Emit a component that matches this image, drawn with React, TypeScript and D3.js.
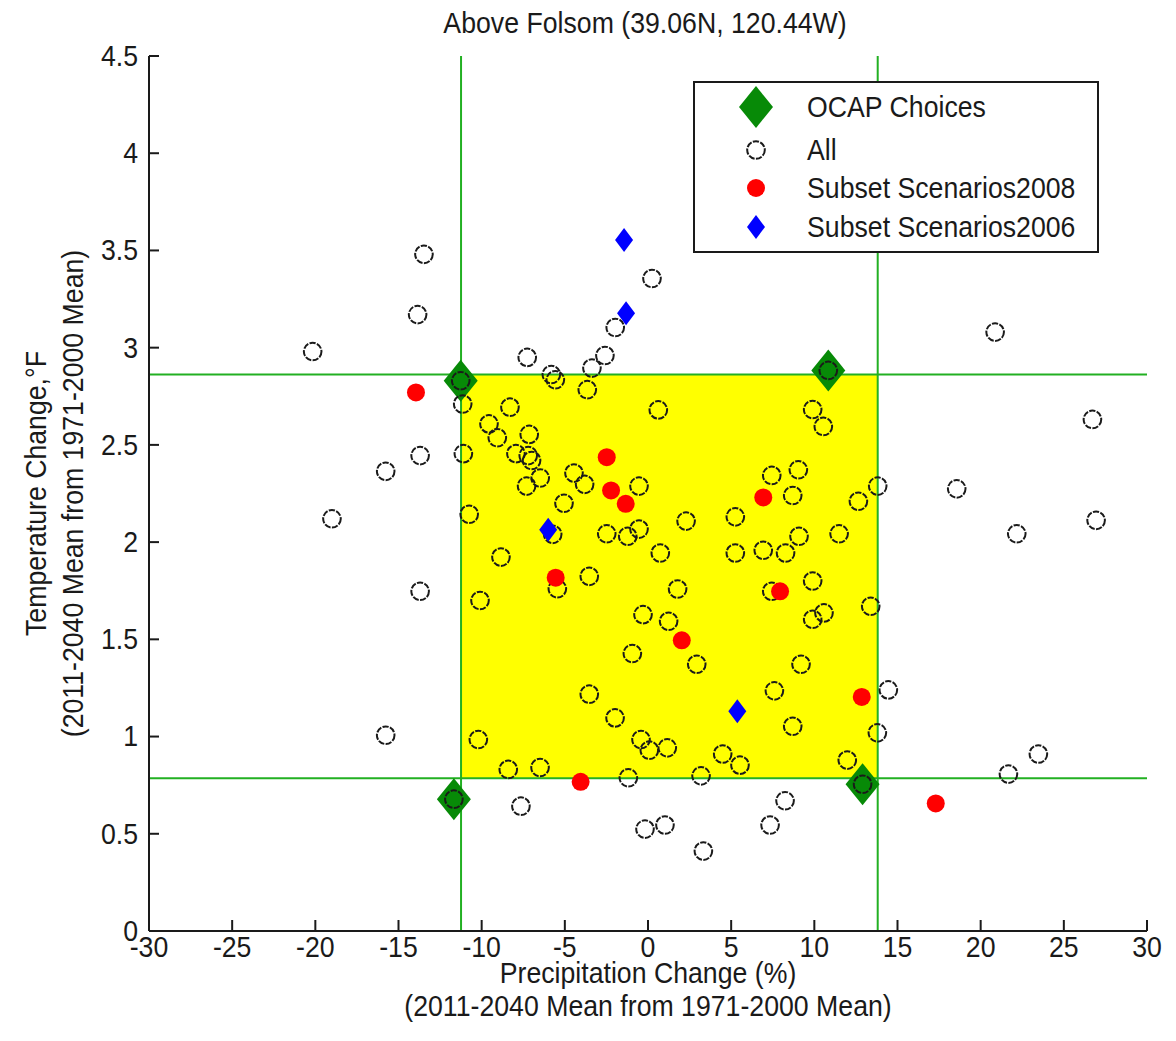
import React from "react";
import * as d3 from "d3";

// ---------- data ----------
const xTicks = [-30, -25, -20, -15, -10, -5, 0, 5, 10, 15, 20, 25, 30];
const yTicks = [0, 0.5, 1, 1.5, 2, 2.5, 3, 3.5, 4, 4.5];
const yTickLabels = ["0", "0.5", "1", "1.5", "2", "2.5", "3", "3.5", "4", "4.5"];

// [precip change %, temp change °F]
const allScenarios: [number, number][] = [
  [-13.47, 3.48], [-13.85, 3.17], [-20.16, 2.98], [-11.26, 2.83], [-11.14, 2.71],
  [-13.7, 2.445], [-11.1, 2.455], [0.24, 3.356], [-1.97, 3.104], [-2.59, 2.96],
  [-7.26, 2.95], [-3.37, 2.895], [-5.81, 2.862], [-5.57, 2.835], [-3.65, 2.784],
  [0.62, 2.68], [-8.3, 2.694], [-9.56, 2.608], [-9.06, 2.537], [-7.14, 2.554],
  [-7.94, 2.455], [-7.2, 2.445], [-7.0, 2.42], [-6.48, 2.33], [-7.3, 2.288],
  [-4.45, 2.355], [-3.81, 2.297], [-0.54, 2.288], [-5.05, 2.2], [-10.75, 2.143],
  [-5.73, 2.04], [-2.48, 2.043], [-1.22, 2.03], [-0.54, 2.067], [2.29, 2.108],
  [5.25, 2.13], [7.44, 2.343], [8.7, 2.24], [9.04, 2.372], [-8.84, 1.923],
  [0.74, 1.944], [5.25, 1.944], [6.93, 1.958], [8.27, 1.944], [9.08, 2.03],
  [-5.45, 1.76], [-3.53, 1.824], [1.78, 1.759], [-10.1, 1.7], [7.44, 1.747],
  [-0.3, 1.627], [1.24, 1.593], [-0.94, 1.427], [2.93, 1.372], [9.2, 1.372],
  [-3.53, 1.218], [7.6, 1.235], [13.81, 2.288], [12.65, 2.21], [18.56, 2.274],
  [26.94, 2.112], [22.17, 2.043], [11.49, 2.043], [9.9, 1.8], [13.39, 1.67],
  [9.9, 1.603], [10.58, 1.636], [14.45, 1.24], [10.84, 2.883], [9.9, 2.682],
  [10.54, 2.595], [20.87, 3.08], [26.72, 2.631], [-15.77, 2.364], [-19.0, 2.12],
  [-13.7, 1.747], [-15.77, 1.007], [-10.2, 0.985], [-11.67, 0.678], [-1.98, 1.096],
  [8.7, 1.053], [-0.42, 0.985], [0.08, 0.93], [1.16, 0.942], [-8.4, 0.831],
  [-6.49, 0.841], [-1.18, 0.788], [3.19, 0.798], [4.49, 0.91], [5.53, 0.853],
  [-7.64, 0.642], [-0.18, 0.524], [1.02, 0.545], [3.33, 0.411], [7.34, 0.545],
  [8.24, 0.67], [13.79, 1.019], [11.98, 0.879], [12.9, 0.755], [21.67, 0.807],
  [23.47, 0.91],
];

const ocapChoices: [number, number][] = [
  [-11.26, 2.83], [10.84, 2.883], [-11.67, 0.678], [12.9, 0.755],
];

const subset2008: [number, number][] = [
  [-13.95, 2.77], [-2.48, 2.437], [-2.22, 2.266], [-1.34, 2.197], [6.93, 2.23],
  [-5.55, 1.817], [7.94, 1.747], [2.03, 1.495], [12.85, 1.204], [-4.05, 0.767],
  [17.3, 0.656],
];

const subset2006: [number, number][] = [
  [-1.44, 3.554], [-1.32, 3.177], [-6.0, 2.064], [5.37, 1.13],
];

// percentile bounds (shaded box)
const boxX = [-11.24, 13.81];
const boxY = [0.786, 2.862];

const legendLabels = ["OCAP Choices", "All", "Subset Scenarios2008", "Subset Scenarios2006"];

const titleText = "Above Folsom (39.06N, 120.44W)";
const xLabel1 = "Precipitation Change (%)";
const xLabel2 = "(2011-2040 Mean from 1971-2000 Mean)";
const yLabel1 = "Temperature Change,°F";
const yLabel2 = "(2011-2040 Mean from 1971-2000 Mean)";

// ---------- layout ----------
const W = 1176;
const H = 1041;
const L = 149, R = 1147, T = 56, B = 931;
const FONT = "'Liberation Sans', Arial, sans-serif";
const FS = 29;
const SX = 0.92;

const GREEN_LINE = "#22b022";
const GREEN_MK = "#078a07";
const INK = "#1a1a1a";

const x = d3.scaleLinear().domain([-30, 30]).range([L, R]);
const y = d3.scaleLinear().domain([0, 4.5]).range([B, T]);

function diamond(cx: number, cy: number, hw: number, hh: number) {
  return `M${cx},${cy - hh}L${cx + hw},${cy}L${cx},${cy + hh}L${cx - hw},${cy}Z`;
}

function T_({ x: tx, y: ty, anchor = "middle", rotate = 0, children }: any) {
  return (
    <g transform={`translate(${tx},${ty}) rotate(${rotate}) scale(${SX},1)`}>
      <text
        x={0}
        y={0}
        fontSize={FS}
        textAnchor={anchor}
        dominantBaseline="central"
        fill={INK}
      >
        {children}
      </text>
    </g>
  );
}

const ringProps = {
  r: 8.8,
  fill: "none",
  stroke: INK,
  strokeWidth: 2,
  strokeDasharray: "6.2 1.4",
};

export default function App() {
  const lx = 756;
  const ly = [107, 150, 188, 227];
  return (
    <svg
      width={W}
      height={H}
      style={{ position: "absolute", left: 0, top: 0, background: "#fff" }}
      fontFamily={FONT}
    >
      <rect x={0} y={0} width={W} height={H} fill="#fff" />
      <T_ x={645} y={23}>{titleText}</T_>

      {/* shaded box */}
      <rect
        x={x(boxX[0])}
        y={y(boxY[1])}
        width={x(boxX[1]) - x(boxX[0])}
        height={y(boxY[0]) - y(boxY[1])}
        fill="#ffff00"
      />
      {boxX.map((v, i) => (
        <line key={"vx" + i} x1={x(v)} x2={x(v)} y1={y(4.5)} y2={y(0)} stroke={GREEN_LINE} strokeWidth={2} />
      ))}
      {boxY.map((v, i) => (
        <line key={"hy" + i} x1={x(-30)} x2={x(30)} y1={y(v)} y2={y(v)} stroke={GREEN_LINE} strokeWidth={2} />
      ))}

      {ocapChoices.map((d, i) => (
        <path key={"oc" + i} d={diamond(x(d[0]), y(d[1]), 17, 21)} fill={GREEN_MK} />
      ))}
      {allScenarios.map((d, i) => (
        <circle key={"a" + i} cx={x(d[0])} cy={y(d[1])} {...ringProps} />
      ))}
      {subset2008.map((d, i) => (
        <circle key={"r" + i} cx={x(d[0])} cy={y(d[1])} r={9} fill="#ff0000" />
      ))}
      {subset2006.map((d, i) => (
        <path key={"b" + i} d={diamond(x(d[0]), y(d[1]), 9, 12)} fill="#0000ff" />
      ))}

      {/* axes */}
      <line x1={L} x2={L} y1={T} y2={B} stroke={INK} strokeWidth={2} />
      <line x1={L} x2={R} y1={B} y2={B} stroke={INK} strokeWidth={2} />
      {xTicks.map((t) => (
        <g key={"xt" + t}>
          <line x1={x(t)} x2={x(t)} y1={B} y2={B - 11} stroke={INK} strokeWidth={2} />
          <T_ x={x(t)} y={947}>{t}</T_>
        </g>
      ))}
      {yTicks.map((t, i) => (
        <g key={"yt" + t}>
          <line x1={L} x2={L + 10} y1={y(t)} y2={y(t)} stroke={INK} strokeWidth={2} />
          <T_ x={L - 11} y={y(t)} anchor="end">{yTickLabels[i]}</T_>
        </g>
      ))}

      {/* axis labels */}
      <T_ x={648} y={973}>{xLabel1}</T_>
      <T_ x={648} y={1006}>{xLabel2}</T_>
      <T_ x={36} y={(T + B) / 2} rotate={-90}>{yLabel1}</T_>
      <T_ x={73} y={(T + B) / 2} rotate={-90}>{yLabel2}</T_>

      {/* legend */}
      <rect x={694} y={82} width={404} height={170} fill="#fff" stroke={INK} strokeWidth={2} />
      <path d={diamond(lx, ly[0], 17, 21)} fill={GREEN_MK} />
      <circle cx={lx} cy={ly[1]} {...ringProps} />
      <circle cx={lx} cy={ly[2]} r={9} fill="#ff0000" />
      <path d={diamond(lx, ly[3], 9, 12)} fill="#0000ff" />
      {legendLabels.map((s, i) => (
        <T_ key={s} x={807} y={ly[i]} anchor="start">{s}</T_>
      ))}
    </svg>
  );
}
